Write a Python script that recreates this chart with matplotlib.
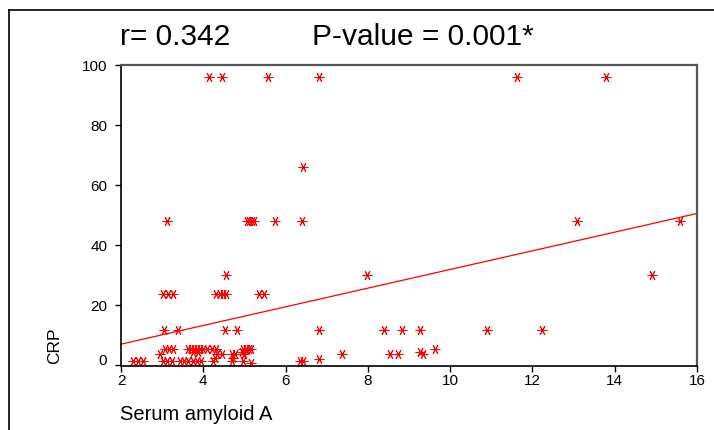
import numpy as np
import matplotlib.pyplot as plt
import matplotlib.transforms as mtransforms
from matplotlib.lines import Line2D

plt.rcParams["font.family"] = ["Liberation Sans", "DejaVu Sans"]

# ===================== data =====================
saa = [4.15, 4.46, 5.57, 6.80, 11.62, 13.80,
       6.43,
       3.11, 5.05, 5.12, 5.18, 5.24, 5.74, 6.39, 13.08, 15.59,
       4.54, 7.97, 14.90,
       3.03, 3.15, 3.26, 4.31, 4.41, 4.49, 4.55, 5.36, 5.48,
       3.05, 3.39, 4.53, 4.83, 6.80, 8.40, 8.84, 9.27, 10.90, 12.23,
       3.07, 3.17, 3.27, 3.62, 3.70, 3.78, 3.85, 3.92, 4.00, 4.10, 4.20, 4.30,
       4.97, 5.04, 5.10, 5.16,
       3.75, 3.88, 4.95, 9.27, 9.62,
       2.95, 4.33, 4.45, 4.70, 4.78, 5.00, 7.38, 8.54, 8.74, 9.35,
       4.28, 4.72, 6.82,
       2.30, 2.42, 2.54, 3.03, 3.11, 3.23, 3.43, 3.53, 3.64, 3.75, 3.85, 3.95,
       4.24, 4.69, 4.97, 5.17, 6.35, 6.43]
crp = [96, 96, 96, 96, 96, 96,
       66,
       48, 48, 48, 48, 48, 48, 48, 48, 48,
       30, 30, 30,
       23.7, 23.7, 23.7, 23.7, 23.7, 23.7, 23.7, 23.7, 23.7,
       11.6, 11.6, 11.6, 11.6, 11.6, 11.6, 11.6, 11.6, 11.6, 11.6,
       5.5, 5.5, 5.5, 5.5, 5.5, 5.5, 5.5, 5.5, 5.5, 5.5, 5.5, 5.5,
       5.5, 5.5, 5.5, 5.5,
       4.5, 4.5, 4.5, 4.5, 5.3,
       3.7, 3.7, 3.7, 3.7, 3.7, 3.7, 3.7, 3.7, 3.7, 3.7,
       2.5, 2.5, 2.2,
       1.3, 1.3, 1.3, 1.3, 1.3, 1.3, 1.3, 1.3, 1.3, 1.3, 1.3, 1.3,
       1.3, 1.3, 1.3, 0.8, 1.3, 1.3]

# fitted line as drawn in the picture
fit_intercept = 0.77
fit_slope = 3.11

r_text = "r= 0.342"
p_text = "P-value = 0.001*"

# ===================== plot =====================
fig = plt.figure(figsize=(7.14, 4.30), dpi=100)
ax = fig.add_axes([0.1695, 0.1488, 0.8067, 0.70])

ax.plot(saa, crp, linestyle="none", marker=(6, 2, 90), markersize=7,
        markeredgewidth=0.7, color="red")

xs = np.array([2, 16])
ax.plot(xs, fit_intercept + fit_slope * xs, color="red", lw=0.9)

ax.set_xlim(2, 16)
ax.set_ylim(-0.3, 100)
ax.set_xticks(range(2, 17, 2))
ax.set_yticks(range(0, 101, 20))
ax.tick_params(direction="out", length=4, width=1, labelsize=11)
ax.tick_params(axis="x", pad=2)
ax.tick_params(axis="y", pad=6)

# the "0" label sits a little higher in the original
zero_lab = ax.get_yticklabels()[0]
zero_lab.set_transform(zero_lab.get_transform() +
                       mtransforms.ScaledTranslation(0, 4 / 72, fig.dpi_scale_trans))

for s in ["left", "bottom"]:
    ax.spines[s].set_color("black")
    ax.spines[s].set_linewidth(1.2)
for s in ["top", "right"]:
    ax.spines[s].set_color("#555555")
    ax.spines[s].set_linewidth(1.6)

fig.text(120 / 714, 1 - 37 / 430, r_text, fontsize=21.5, va="center", ha="left")
fig.text(312 / 714, 1 - 37 / 430, p_text, fontsize=21.5, va="center", ha="left")
fig.text(120 / 714, 1 - 414 / 430, "Serum amyloid A", fontsize=14.5, va="center", ha="left")
fig.text(55 / 714, 1 - 346 / 430, "CRP", fontsize=12.5, rotation=90, va="center", ha="center")

# outer frame (left and top edges)
fig.add_artist(Line2D([9 / 714, 9 / 714], [0, 1 - 10 / 430], color="black", lw=1.2,
                      transform=fig.transFigure))
fig.add_artist(Line2D([9 / 714, 1], [1 - 10 / 430, 1 - 10 / 430], color="black", lw=1.2,
                      transform=fig.transFigure))

fig.savefig("out.png", dpi=100)
